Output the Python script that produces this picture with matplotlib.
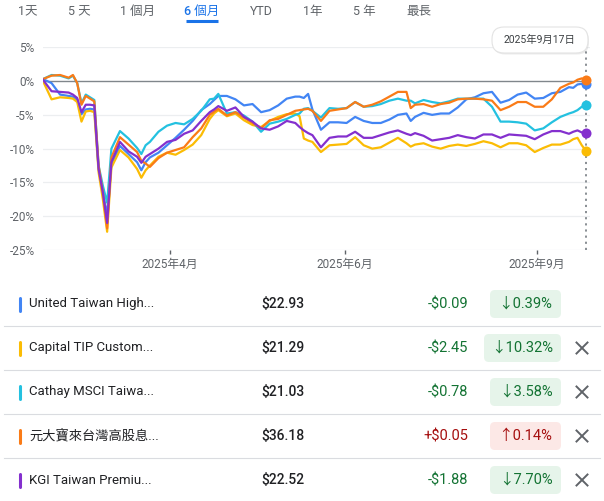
import matplotlib
matplotlib.use("Agg")
import matplotlib.pyplot as plt
from matplotlib.patches import FancyBboxPatch

plt.rcParams['font.family'] = ['Roboto', 'Noto Sans CJK TC', 'DejaVu Sans']

W, H = 604, 501

# ---- data ----
tabs = ["1天", "5 天", "1 個月", "6 個月", "YTD", "1年", "5 年", "最長"]
tab_x = [28, 79, 137.5, 201.5, 261.5, 313, 364, 418.5]
active_tab = 3

# trading-day index (0 = 2025-03-17 ... 127 = 2025-09-17)
day = [0, 2, 4, 6, 7, 8, 9, 10, 11, 12, 13, 14, 15, 16, 18, 20, 22, 23, 24, 25,
       27, 29, 31, 33, 35, 37, 39, 40, 41, 43, 45, 47, 49, 51, 53, 55, 57, 59, 60, 61,
       62, 63, 65, 67, 69, 71, 73, 75, 77, 79, 81, 83, 85, 86, 87, 89, 91, 93, 95, 97,
       99, 101, 103, 105, 107, 109, 111, 113, 115, 117, 119, 121, 123, 124, 125, 126, 127]

blue = [0.3, -0.3, -2.0, -2.2, -2.3, -2.8, -4.9, -4.2, -4.1, -4.2, -13.0, -16.5, -19.8, -12.3, -9.6, -10.8, -12.0, -13.2, -12.0, -11.3,
        -10.6, -9.5, -8.4, -7.2, -5.9, -4.3, -3.4, -2.8, -2.2, -2.2, -2.7, -3.6, -3.4, -4.6, -4.3, -3.6, -2.6, -2.3, -2.3, -2.5,
        -1.9, -4.2, -7.2, -6.1, -6.1, -6.2, -5.3, -5.9, -6.2, -6.2, -5.7, -5.0, -4.8, -5.9, -5.3, -4.7, -5.0, -4.8, -4.8, -3.9,
        -2.7, -2.4, -1.8, -1.6, -3.2, -2.8, -2.0, -1.7, -2.6, -2.5, -1.8, -1.6, -0.9, -1.0, -0.5, -0.4, -0.39]

yellow = [0.0, -2.7, -2.4, -2.5, -2.6, -3.1, -6.0, -4.5, -4.4, -4.6, -13.5, -17.5, -22.3, -12.8, -10.2, -11.3, -13.0, -14.3, -13.2, -12.5,
          -11.2, -10.6, -10.9, -10.2, -9.4, -8.0, -5.6, -4.8, -4.3, -5.2, -4.8, -5.8, -6.5, -6.8, -5.9, -5.3, -4.9, -4.8, -5.2, -8.5,
          -8.8, -9.0, -10.5, -9.5, -9.4, -9.3, -8.3, -9.5, -10.0, -9.8, -9.1, -8.4, -9.2, -9.7, -9.4, -9.2, -9.7, -10.0, -9.6, -9.4,
          -9.6, -9.3, -8.9, -9.2, -9.8, -9.2, -9.2, -9.5, -10.5, -9.9, -9.4, -9.4, -9.0, -8.6, -8.4, -9.5, -10.32]

cyan = [0.3, 0.9, 0.8, 0.4, 0.8, -0.3, -3.3, -2.0, -2.4, -2.8, -12.5, -15.5, -18.0, -10.0, -7.4, -8.5, -9.9, -10.8, -9.5, -9.0,
        -7.5, -6.6, -6.2, -6.4, -5.6, -4.4, -2.7, -2.6, -1.9, -4.8, -4.6, -5.1, -6.0, -7.5, -6.3, -6.0, -5.6, -5.0, -4.8, -4.1,
        -4.0, -4.4, -5.4, -4.0, -4.1, -4.0, -3.1, -3.8, -3.7, -3.4, -2.9, -2.6, -2.9, -2.9, -3.3, -2.8, -3.1, -3.3, -3.0, -2.6,
        -2.6, -2.6, -2.6, -3.8, -6.0, -6.0, -6.1, -6.3, -7.3, -7.0, -6.1, -5.3, -4.8, -4.6, -4.3, -3.8, -3.58]

orange = [0.3, 0.8, 0.9, 0.5, 0.9, -0.3, -3.5, -2.2, -2.6, -3.0, -12.5, -16.5, -21.8, -11.3, -8.3, -9.4, -10.5, -11.8, -12.2, -12.7,
          -11.4, -10.6, -10.2, -9.8, -8.3, -7.0, -5.0, -4.5, -4.1, -5.1, -4.6, -5.4, -6.2, -7.0, -5.8, -5.6, -5.0, -4.4, -4.3, -4.2,
          -4.1, -4.4, -5.9, -4.4, -4.2, -4.0, -3.1, -3.8, -3.5, -3.0, -2.3, -1.6, -1.6, -4.0, -3.5, -3.4, -3.8, -3.4, -3.2, -2.7,
          -2.6, -2.6, -2.7, -2.9, -4.3, -3.8, -3.1, -3.1, -3.8, -3.8, -2.7, -1.0, -0.4, -0.2, 0.2, 0.4, 0.14]

purple = [0.2, -1.5, -1.6, -1.7, -2.0, -2.5, -4.6, -3.5, -3.5, -3.6, -13.0, -16.5, -21.0, -12.0, -9.0, -10.4, -11.2, -12.1, -11.2, -10.8,
          -10.0, -9.0, -8.7, -7.8, -7.3, -5.9, -4.6, -4.2, -3.7, -4.4, -3.9, -5.3, -6.0, -7.0, -7.2, -6.7, -5.9, -6.2, -6.8, -7.3,
          -7.7, -8.0, -9.8, -8.4, -8.2, -8.2, -7.5, -8.4, -8.4, -8.0, -7.6, -7.3, -7.8, -8.0, -7.7, -8.1, -8.8, -8.6, -8.4, -8.0,
          -8.3, -8.5, -7.9, -7.9, -8.4, -7.9, -8.0, -8.1, -8.6, -7.9, -7.4, -7.4, -7.8, -7.5, -7.3, -7.6, -7.70]

names = ["United Taiwan High...", "Capital TIP Custom...", "Cathay MSCI Taiwa...",
         "元大寶來台灣高股息...", "KGI Taiwan Premiu..."]
prices = ["$22.93", "$21.29", "$21.03", "$36.18", "$22.52"]
changes = ["-$0.09", "-$2.45", "-$0.78", "+$0.05", "-$1.88"]
pct_changes = ["↓0.39%", "↓10.32%", "↓3.58%", "↑0.14%", "↓7.70%"]
removable = [False, True, True, True, True]
colors = ["#4285f4", "#fbbc04", "#24c1e0", "#fa7b17", "#8430ce"]
values = [blue, yellow, cyan, orange, purple]

y_ticks = [5, 0, -5, -10, -15, -20, -25]
month_ticks = [29.7, 70.6, 115.5]
month_labels = ["2025年4月", "2025年6月", "2025年9月"]
tooltip_date = "2025年9月17日"

# ---- figure ----
fig = plt.figure(figsize=(W / 100, H / 100), dpi=100)

ax = fig.add_axes([43 / W, 1 - 250 / H, (590 - 43) / W, (250 - 47.3) / H])
ax.set_xlim(0, 547 / 4.276)
ax.set_ylim(-25, 5)
for s in ax.spines.values():
    s.set_visible(False)

for v in y_ticks:
    if v == 0:
        ax.axhline(v, color="#80868b", lw=1.0, zorder=1)
    else:
        ax.axhline(v, color="#eceef0", lw=0.9, zorder=0)

for vals, c in zip(values, colors):
    ax.plot(day, vals, color=c, lw=1.6, solid_joinstyle="round", zorder=3)

ax.axvline(day[-1], color="#80868b", lw=1.3, ls=(0, (1.2, 2.2)), zorder=2)
for vals, c in zip(values, colors):
    ax.scatter([day[-1]], [vals[-1]], s=52, color=c, zorder=6, clip_on=False, linewidths=0)

ax.set_yticks(y_ticks)
ax.set_yticklabels([f"{v}%" for v in y_ticks])
ax.tick_params(axis="y", length=0, pad=6, labelsize=8.5, labelcolor="#5f6368")
ax.set_xticks(month_ticks)
ax.set_xticklabels(month_labels)
ax.tick_params(axis="x", length=3, width=1, color="#5f6368", pad=3,
               labelsize=8.5, labelcolor="#5f6368")

# ---- overlay in pixel coordinates ----
ov = fig.add_axes([0, 0, 1, 1], zorder=5)
ov.set_xlim(0, W)
ov.set_ylim(H, 0)
ov.axis("off")

for i, (t, x) in enumerate(zip(tabs, tab_x)):
    col = "#1a73e8" if i == active_tab else "#5f6368"
    ov.text(x, 11.5, t, ha="center", va="center", fontsize=9, color=col,
            fontweight="medium" if i == active_tab else "normal")
ov.plot([186, 218], [21, 21], color="#1a73e8", lw=2.2, solid_capstyle="butt")

# tooltip
ov.add_patch(FancyBboxPatch((493, 28.5), 96, 26, boxstyle="round,pad=0,rounding_size=12",
                            fc="#000000", ec="none", alpha=0.08))
ov.add_patch(FancyBboxPatch((492, 27), 96, 26, boxstyle="round,pad=0,rounding_size=12",
                            fc="white", ec="#e3e3e3", lw=0.8))
ov.text(540, 40, tooltip_date, ha="center", va="center", fontsize=7.5, color="#3c4043")

# table
row_y = [304 + 44 * i for i in range(len(names))]
for i, yc in enumerate(row_y):
    if i > 0:
        ov.plot([4, 600], [yc - 22, yc - 22], color="#dadce0", lw=0.8)
    ov.plot([19.5, 19.5], [yc - 6.5, yc + 6.5], color=colors[i], lw=2.2, solid_capstyle="round")
    ov.text(29, yc, names[i], ha="left", va="center", fontsize=9.5, color="#202124")
    ov.text(283, yc, prices[i], ha="center", va="center", fontsize=10, color="#202124",
            fontweight="medium")
    up = changes[i].startswith("+")
    fg = "#a50e0e" if up else "#137333"
    bg = "#fce8e6" if up else "#e6f4ea"
    ov.text(468, yc, changes[i], ha="right", va="center", fontsize=10.5, color=fg)
    bw = 35 + 6 * len(pct_changes[i])
    ov.add_patch(FancyBboxPatch((561 - bw, yc - 14), bw, 28,
                                boxstyle="round,pad=0,rounding_size=5", fc=bg, ec="none"))
    ov.text(561 - bw / 2, yc, pct_changes[i], ha="center", va="center", fontsize=10.5, color=fg)
    if removable[i]:
        d = 5.5
        ov.plot([582 - d, 582 + d], [yc - d, yc + d], color="#5f6368", lw=1.4)
        ov.plot([582 - d, 582 + d], [yc + d, yc - d], color="#5f6368", lw=1.4)

fig.savefig("out.png", dpi=100)
